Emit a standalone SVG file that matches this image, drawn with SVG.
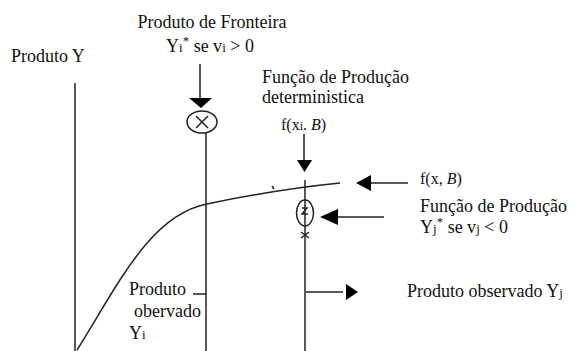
<svg xmlns="http://www.w3.org/2000/svg" width="572" height="351" viewBox="0 0 572 351">
<style>
text{font-family:"Liberation Serif","Times New Roman",serif;font-size:18px;fill:#111}
.s{font-size:13px}
.sm{font-size:16px}
.ln{stroke:#222;stroke-width:1.5;fill:none}
.hd{fill:#000}
</style>
<rect width="572" height="351" fill="#fff"/>
<g id="axis">
<line class="ln" x1="75" y1="83" x2="75" y2="351"/>
<text x="11" y="62">Produto Y</text>
</g>
<g id="curve">
<path class="ln" d="M77,350 C118,285 150,215 207,204 C250,195 290,188 340,183"/>
<path class="ln" d="M272,186 l2,3" stroke-width="1"/>
</g>
<g id="frontier">
<text x="212" y="28" text-anchor="middle">Produto de Fronteira</text>
<text x="166" y="52">Y<tspan class="s">i</tspan><tspan class="s" dy="-7">*</tspan><tspan dy="7"> se v</tspan><tspan class="s">i</tspan> &gt; 0</text>
<ellipse class="ln" cx="202" cy="122" rx="15" ry="11"/>
<path class="ln" d="M196,116 L208,128 M208,116 L196,128" stroke-width="1.3"/>
</g>
<g id="observed-i">
<text x="129" y="295">Produto</text>
<text x="134" y="317">obervado</text>
<text x="129" y="339">Y<tspan class="s">i</tspan></text>
</g>
<g id="deterministic">
<text x="262" y="83">Função de Produção</text>
<text x="262" y="103">deterministica</text>
<text class="sm" x="281" y="130">f(x<tspan font-size="12">i</tspan>. <tspan font-style="italic">B</tspan>)</text>
</g>
<g id="fxb">
<text class="sm" x="420" y="184">f(x, <tspan font-style="italic">B</tspan>)</text>
</g>
<g id="frontier-j">
<text x="420" y="212">Função de Produção</text>
<text x="420" y="233">Y<tspan class="s">j</tspan><tspan class="s" dy="-7">*</tspan><tspan dy="7"> se v</tspan><tspan class="s">j</tspan> &lt; 0</text>
<ellipse class="ln" cx="305" cy="213" rx="8.5" ry="13" stroke-width="1.2"/>
<path class="ln" d="M302,208 l5,0 l-5,6 l6,0" stroke-width="1"/>
<path class="ln" d="M301,232 l8,6 M309,232 l-8,6" stroke-width="1"/>
</g>
<g id="observed-j">
<text x="407" y="297">Produto observado Y<tspan class="s">j</tspan></text>
</g>
<g id="connectors">
<line class="ln" x1="200" y1="64" x2="200" y2="99"/>
<polygon class="hd" points="189,98 212,98 201,108"/>
<line class="ln" x1="206" y1="133" x2="206" y2="351"/>
<line class="ln" x1="193" y1="294" x2="206" y2="294"/>
<line class="ln" x1="304" y1="134" x2="304" y2="161"/>
<polygon class="hd" points="297,160 312,160 304.5,172"/>
<line class="ln" x1="305" y1="180" x2="305" y2="351"/>
<line class="ln" x1="408" y1="183" x2="370" y2="183"/>
<polygon class="hd" points="356,183 371,175 371,191"/>
<line class="ln" x1="384" y1="217" x2="337" y2="217"/>
<polygon class="hd" points="320,217 338,209 338,225"/>
<line class="ln" x1="306" y1="292" x2="343" y2="292"/>
<polygon class="hd" points="346,284 358,292 346,300"/>
</g>
</svg>
